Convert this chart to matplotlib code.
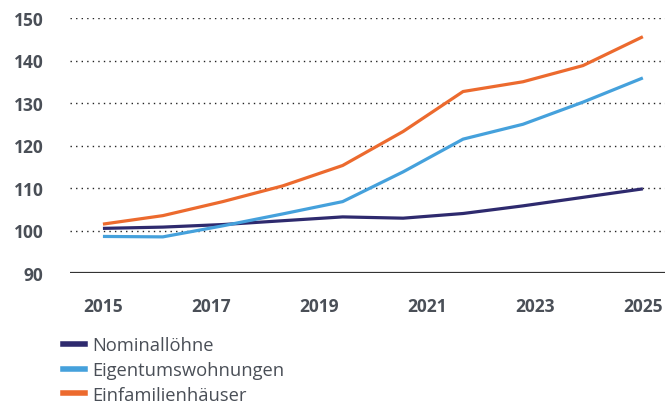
import numpy as np
import matplotlib
matplotlib.use("Agg")
import matplotlib.pyplot as plt
from matplotlib.lines import Line2D

plt.rcParams['font.family'] = ['Open Sans', 'DejaVu Sans']

# --- DATA ---
years = [2015, 2016.11, 2017.22, 2018.33, 2019.44, 2020.56, 2021.67, 2022.78, 2023.89, 2025]
nominalloehne = [100.5, 100.8, 101.4, 102.3, 103.2, 102.9, 104.0, 105.8, 107.8, 109.8]
eigentum = [98.6, 98.5, 101.1, 103.9, 106.8, 113.8, 121.5, 125.0, 130.2, 135.9]
einfamilien = [101.5, 103.5, 106.8, 110.5, 115.3, 123.3, 132.7, 135.0, 138.8, 145.6]
series_names = ['Nominallöhne', 'Eigentumswohnungen', 'Einfamilienhäuser']
x_ticks = [2015, 2017, 2019, 2021, 2023, 2025]
y_ticks = [90, 100, 110, 120, 130, 140, 150]

colors = ['#2e2a6e', '#45a1dc', '#ec6a2e']
text_col = '#4a4f57'

fig = plt.figure(figsize=(6.72, 4.06), dpi=100)
ax = fig.add_axes([70/672, 1 - 274/406, 595/672, 255/406])

for vals, c in zip([nominalloehne, eigentum, einfamilien], colors):
    ax.plot(years, vals, color=c, linewidth=2.3, solid_capstyle='butt', zorder=3)

ax.set_xlim(2014.39, 2025.41)
ax.set_ylim(90, 150)

# gepunktete Hilfslinien (nicht bei 90)
for y in y_ticks[1:]:
    ax.axhline(y, color='#222222', linestyle=(0, (1, 3)), linewidth=1.0, zorder=1)
ax.axhline(90, color='#333333', linewidth=1.6, zorder=2)

for s in ax.spines.values():
    s.set_visible(False)

ax.set_xticks(x_ticks)
ax.set_xticklabels([str(t) for t in x_ticks])
ax.set_yticks(y_ticks)
ax.tick_params(axis='both', length=0, labelsize=12.5, labelcolor=text_col)
ax.tick_params(axis='y', pad=19)
ax.tick_params(axis='x', pad=17)
for lbl in ax.get_xticklabels() + ax.get_yticklabels():
    lbl.set_fontweight('bold')

handles = [Line2D([0], [0], color=c, linewidth=4) for c in colors]
leg = fig.legend(handles, series_names, loc='upper left',
                 bbox_to_anchor=(56/672, 1 - 330/406), frameon=False,
                 fontsize=13.2, handlelength=1.2, handletextpad=0.4,
                 labelspacing=0.36, borderaxespad=0)
for t in leg.get_texts():
    t.set_color(text_col)

fig.savefig('out.png', dpi=100)
